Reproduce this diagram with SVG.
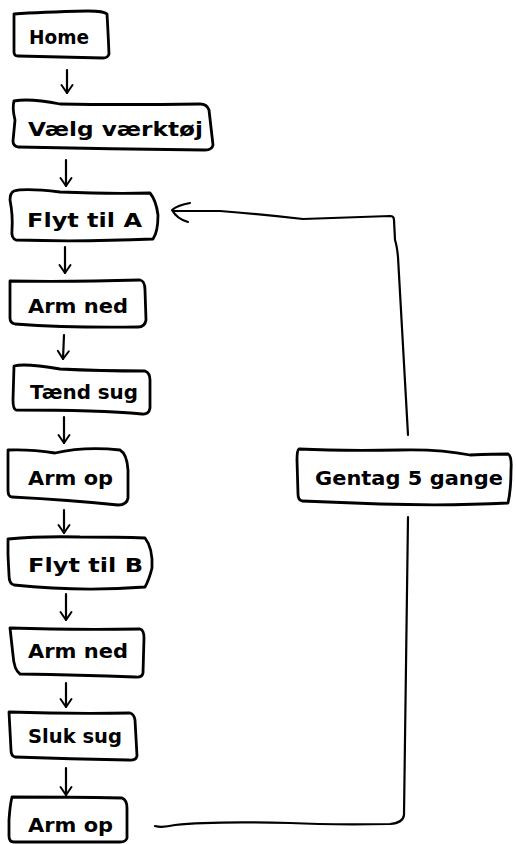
<svg xmlns="http://www.w3.org/2000/svg" width="516" height="844" viewBox="0 0 516 844">
<style>
.box{fill:#fff;stroke:#000;stroke-width:2.8;stroke-linejoin:round;stroke-linecap:round}
.lbl{font-family:"DejaVu Sans","Liberation Sans",sans-serif;font-weight:bold;font-size:20px;fill:#000}
.con{fill:none;stroke:#000;stroke-width:2.2;stroke-linecap:round;stroke-linejoin:round}
</style>
<defs>
<marker id="ah" markerUnits="userSpaceOnUse" markerWidth="20" markerHeight="20" refX="0" refY="0" viewBox="-10 -10 20 20" orient="auto" overflow="visible">
<path d="M-8,-5.5 L0,0 L-8,5.5" fill="none" stroke="#000" stroke-width="2" stroke-linecap="round" stroke-linejoin="round"/>
</marker>
</defs>
<rect width="516" height="844" fill="#fff"/>
<g id="connectors">
<path class="con" d="M67,70 L67,93" marker-end="url(#ah)"/>
<path class="con" d="M66,160 L66,186" marker-end="url(#ah)"/>
<path class="con" d="M65,247 L65,273" marker-end="url(#ah)"/>
<path class="con" d="M64,335 L63,359" marker-end="url(#ah)"/>
<path class="con" d="M64,417 L64,443" marker-end="url(#ah)"/>
<path class="con" d="M64,510 L64,533" marker-end="url(#ah)"/>
<path class="con" d="M66,594 L66,620" marker-end="url(#ah)"/>
<path class="con" d="M66,683 L66,707" marker-end="url(#ah)"/>
<path class="con" d="M66,768 L66,795" marker-end="url(#ah)"/>
<path class="con" d="M408,435 L398,257 Q397,246 395,240 L394,220 Q394,216 390,216 L303,219 Q260,214 220,211 L173,211"/>
<path class="con" d="M190,203 Q178,205 172,210 Q177,219 188,222"/>
<path class="con" d="M155,826 Q162,828 175,825 Q210,821 290,823 Q330,825 390,824 Q403,823 404,815 L408,517"/>
</g>
<g id="home">
<path class="box" d="M14,14 Q40,12 88,11 Q104,11 107,14 Q108,30 109,54 Q108,58 103,58 Q60,57 18,56 Q14,56 14,52 Z"/>
<text class="lbl" x="29" y="44" textLength="60" lengthAdjust="spacingAndGlyphs">Home</text>
</g>
<g id="vaelg">
<path class="box" d="M14,101 Q30,98 60,104 Q120,105 200,104 Q207,104 209,110 L213,145 Q212,150 205,150 Q110,149 18,147 Q13,146 13,141 L15,120 Q12,108 14,101 Z"/>
<text class="lbl" x="28" y="136" textLength="175" lengthAdjust="spacingAndGlyphs">Vælg værktøj</text>
</g>
<g id="flytA">
<path class="box" d="M14,191 Q25,188 60,192 Q110,194 150,193 Q156,200 158,215 Q158,232 153,239 Q80,242 16,240 Q11,238 12,230 Q13,215 10,200 Q10,193 14,191 Z"/>
<text class="lbl" x="27" y="227" textLength="115" lengthAdjust="spacingAndGlyphs">Flyt til A</text>
</g>
<g id="armned1">
<path class="box" d="M10,281 Q70,282 140,280 Q145,281 145,290 L146,320 Q145,327 138,327 Q70,328 15,324 Q10,323 10,318 Z"/>
<text class="lbl" x="28" y="313" textLength="100" lengthAdjust="spacingAndGlyphs">Arm ned</text>
</g>
<g id="taend">
<path class="box" d="M14,366 Q25,363 60,369 Q100,371 145,371 Q150,373 150,380 L150,408 Q149,415 142,414 Q100,410 16,410 Q13,409 13,400 Z"/>
<text class="lbl" x="30" y="399" textLength="108" lengthAdjust="spacingAndGlyphs">Tænd sug</text>
</g>
<g id="armop1">
<path class="box" d="M8,450 Q30,449 55,453 Q85,446 120,450 Q127,454 128,470 L128,498 Q127,505 118,505 Q70,500 12,497 Q8,497 8,490 Z"/>
<text class="lbl" x="28" y="485" textLength="85" lengthAdjust="spacingAndGlyphs">Arm op</text>
</g>
<g id="flytB">
<path class="box" d="M8,539 Q40,536 80,537 Q120,537 145,538 Q153,548 152,568 Q149,580 145,587 Q80,592 14,585 Q9,584 9,575 L8,555 Z"/>
<text class="lbl" x="28" y="572" textLength="115" lengthAdjust="spacingAndGlyphs">Flyt til B</text>
</g>
<g id="armned2">
<path class="box" d="M10,628 Q70,630 140,629 Q144,630 144,638 L143,673 Q142,678 135,677 Q80,675 20,674 Q14,670 13,655 Z"/>
<text class="lbl" x="28" y="658" textLength="100" lengthAdjust="spacingAndGlyphs">Arm ned</text>
</g>
<g id="sluk">
<path class="box" d="M9,712 Q70,714 130,713 Q134,714 135,720 L137,756 Q136,761 128,760 Q70,759 15,757 Q11,756 11,750 Z"/>
<text class="lbl" x="28" y="743" textLength="94" lengthAdjust="spacingAndGlyphs">Sluk sug</text>
</g>
<g id="armop2">
<path class="box" d="M12,797 Q70,797 122,798 Q127,800 127,808 L127,838 Q126,842 120,842 L14,842 Q9,842 9,836 L9,820 Q10,805 12,797 Z"/>
<text class="lbl" x="28" y="832" textLength="85" lengthAdjust="spacingAndGlyphs">Arm op</text>
</g>
<g id="gentag">
<path class="box" d="M299,449 Q340,451 400,450 Q440,449 470,455 Q495,454 508,454 Q512,456 511,470 Q511,490 508,503 Q450,506 380,504 Q330,502 302,501 Q298,500 298,494 L297,460 Q297,450 299,449 Z"/>
<text class="lbl" x="315" y="485" textLength="188" lengthAdjust="spacingAndGlyphs">Gentag 5 gange</text>
</g>
</svg>
